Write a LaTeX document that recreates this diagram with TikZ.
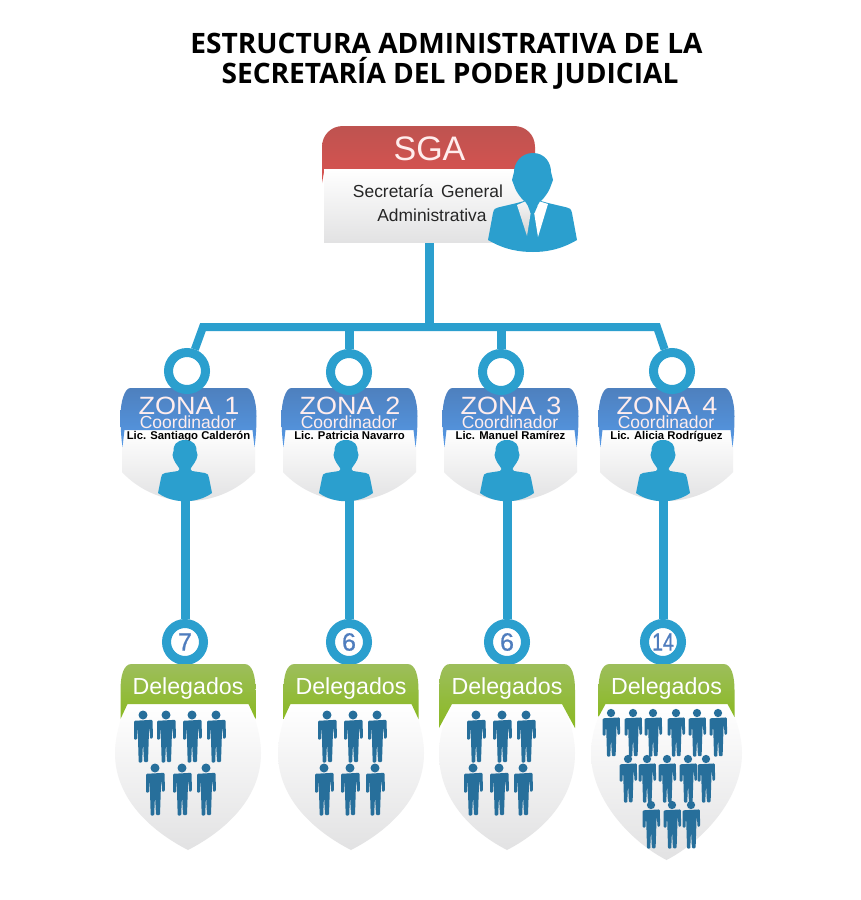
\documentclass[tikz,border=0pt]{standalone}
\usepackage{fontspec}
\setmainfont{Liberation Sans}
\newfontfamily\titlefont{Open Sans}
\newfontfamily\numfont[FakeBold=0.8]{Liberation Sans}
\usetikzlibrary{calc}
\definecolor{cblue}{HTML}{2B9FCE}
\definecolor{pblue}{HTML}{276F9B}
\definecolor{numblue}{HTML}{4F7DBE}
\definecolor{redT}{HTML}{BE5350}
\definecolor{redB}{HTML}{D95350}
\definecolor{zoneT}{HTML}{4E80BE}
\definecolor{zoneB}{HTML}{5599E6}
\definecolor{greenT}{HTML}{9DBE5C}
\definecolor{greenB}{HTML}{8AB922}
\definecolor{palegrey}{HTML}{E2E2E3}
\tikzset{
  conn/.style={draw=cblue,line width=9pt},
  busline/.style={draw=cblue,line width=8pt,line join=miter},
  ringnode/.style={circle,draw=cblue,line width=9pt,fill=white,minimum size=37pt,inner sep=0pt,font=\numfont\fontsize{25}{25}\selectfont\color{numblue}},
  titletext/.style={font=\titlefont\bfseries\fontsize{28.1}{30}\selectfont,align=center,text=black},
  zonetext/.style={anchor=base,inner sep=0pt,text=white!93!red,font=\fontsize{25}{25}\selectfont},
  coordtext/.style={anchor=base,inner sep=0pt,text=white!93!red,font=\fontsize{17.5}{17.5}\selectfont},
  nametext/.style={anchor=base,inner sep=0pt,text=black,font=\bfseries\fontsize{11.3}{11.3}\selectfont},
  delegtext/.style={anchor=base,inner sep=0pt,text=white,font=\fontsize{23.2}{23.2}\selectfont},
  sgatext/.style={anchor=base,inner sep=0pt,text=black!85,font=\fontsize{17.4}{17.4}\selectfont},
}
% bust figure: head centre (#1,#2)
\newcommand{\bust}[2]{%
 \begin{scope}[shift={(#1,#2)}]
  \fill[cblue] (0,-15) .. controls (9,-15) and (12,-9) .. (11.5,-4) -- (12.5,0) -- (11.5,4)
    .. controls (9.5,9) and (6,12) .. (5.5,14) -- (7,16) -- (20,18) .. controls (23,18.5) and (23.5,20) .. (24,23)
    -- (27,38) .. controls (12,49) and (-12,49) .. (-27,38) -- (-24,23) .. controls (-23.5,20) and (-23,18.5) .. (-20,18)
    -- (-7,16) -- (-5.5,14) .. controls (-6,12) and (-9.5,9) .. (-11.5,4) -- (-12.5,0) -- (-11.5,-4)
    .. controls (-12,-9) and (-9,-15) .. (0,-15) -- cycle;
 \end{scope}}
% small standing person: head centre (#1,#2), scale #3
\newcommand{\walker}[3]{%
 \begin{scope}[shift={(#1,#2)},scale=#3]
  \fill[pblue] (0,0) circle (4.5);
  \fill[pblue,rounded corners=1pt] (-9,5.8) -- (9.5,4.8) -- (10,23) -- (7.2,24) -- (6.2,10) -- (5,47) -- (1,47) -- (0,27) -- (-0.8,47.5) -- (-4.3,47.5) -- (-5.4,10) -- (-6,24.5) -- (-9,24.5) -- cycle;
 \end{scope}}
% zone shield: centre #1, index #2, zona text #3, name #4
\newcommand{\zoneshield}[4]{%
 \shade[top color=white,bottom color=palegrey]
   (#1-66.5,430) -- (#1+66.5,430) -- (#1+66.5,472) .. controls (#1+50,490) and (#1+25,501) .. (#1,501)
   .. controls (#1-25,501) and (#1-50,490) .. (#1-66.5,472) -- cycle;
 \shade[top color=zoneT,bottom color=zoneB]
   (#1-58,388) -- (#1+58,388) .. controls (#1+64,388) and (#1+68,402) .. (#1+68,416)
   .. controls (#1+68,430) and (#1+67,440) .. (#1+66,447) -- (#1+64,430) -- (#1-64,430) -- (#1-66,447)
   .. controls (#1-67,440) and (#1-68,430) .. (#1-68,416) .. controls (#1-68,402) and (#1-64,388) .. (#1-58,388) -- cycle;
 \node[zonetext] (zt#2) at (#1+0.5,414.3) {\scalebox{1.08}[1]{ZONA\hspace{10pt}#3}};
 \node[coordtext] (zc#2) at (#1-0.5,428.3) {Coordinador};
 \node[nametext] (zn#2) at (#1,439.5) {#4};
}
% delegate shield: centre #1, half-width #2, bottom y #3, green half width #4, index #5, wing y #6, wing inset #7
\newcommand{\delegshield}[7]{%
 \shade[top color=white,bottom color=palegrey]
   (#1-#4+#7,704) -- (#1+#4-#7,704) .. controls (#1+#2-5,718) and (#1+#2,738) .. (#1+#2,753)
   .. controls (#1+#2,800) and (#1+35,#3-18) .. (#1,#3)
   .. controls (#1-35,#3-18) and (#1-#2,800) .. (#1-#2,753)
   .. controls (#1-#2,738) and (#1-#2+5,718) .. (#1-#4+#7,704) -- cycle;
 \shade[top color=greenT,bottom color=greenB]
   (#1-#4+11,664) -- (#1+#4-11,664) .. controls (#1+#4-3,664) and (#1+#4,676) .. (#1+#4,690)
   -- (#1+#4,#6) -- (#1+#4-#7,704) -- (#1-#4+#7,704) -- (#1-#4,#6) -- (#1-#4,690)
   .. controls (#1-#4,676) and (#1-#4+3,664) .. (#1-#4+11,664) -- cycle;
 \node[delegtext] (dt#5) at (#1,694) {Delegados};
}
\begin{document}
\begin{tikzpicture}[x=1pt,y=-1pt]
\useasboundingbox (0,0) rectangle (860,900);
\fill[white] (0,0) rectangle (860,900);
% title
\node[titletext] (title) at (446.5,61) {ESTRUCTURA ADMINISTRATIVA DE LA\\\hspace*{7pt}SECRETARÍA DEL PODER JUDICIAL};
% named points
\coordinate (busL) at (203,327);
\coordinate (busR) at (657,327);
\coordinate (busM) at (429,327);
\coordinate (sgaS) at (429,240);
% SGA stem
\draw[conn] (sgaS) -- (busM);
% SGA
\shade[top color=redT,bottom color=redB]
  (322,183) -- (322,147) .. controls (322,135) and (331,126) .. (343,126) -- (514,126) .. controls (526,126) and (535,135) .. (535,147) -- (535,172) -- (324,172) -- cycle;
\shade[top color=white,bottom color=palegrey] (324,169) rectangle (525,242);
\node[anchor=base,inner sep=0pt,text=white!93!red,font=\fontsize{34}{34}\selectfont] (sga) at (429.5,160.7) {SGA};
\node[sgatext] (sga1) at (428,197) {Secretaría\hspace{3pt} General};
\node[sgatext] (sga2) at (432,221) {Administrativa};
% big man
\fill[cblue] (533,153) .. controls (545,153) and (551,163) .. (551,172) -- (553,180) -- (550,188) .. controls (548,193) and (544,198) .. (541,201) -- (548,203) -- (567,207.5) .. controls (570,208) and (571,209) .. (572,213) -- (577,240)
  .. controls (560,250) and (545,252) .. (533,252) .. controls (520,252) and (505,250) .. (488,240) -- (493,213) .. controls (494,209) and (495,208) .. (498,207.5) -- (517,203) -- (524,201) .. controls (521,198) and (517,193) .. (515,188) -- (512,180) -- (514,172) .. controls (514,163) and (521,153) .. (533,153) -- cycle;
\shade[top color=white!96!black,bottom color=white!82!black] (517,205) -- (525,201.5) -- (531,211) -- (527,236) -- cycle;
\fill[white] (548,204) -- (540,201.5) -- (534,212) -- (538,237) -- cycle;
\fill[cblue] (528,206) -- (537.5,206) -- (534.5,213) -- (530.5,213) -- cycle;
% zones
\zoneshield{188.5}{1}{1}{Lic. Santiago Calderón}
\zoneshield{349.5}{2}{2}{Lic. Patricia Navarro}
\zoneshield{510.5}{3}{3}{Lic. Manuel Ramírez}
\zoneshield{666.5}{4}{4}{Lic. Alicia Rodríguez}
\bust{185}{455}
\bust{346}{455}
\bust{507}{455}
\bust{663}{455}
% rings under the bus
\node[ringnode] (r1) at (187,371) {};
\node[ringnode] (r2) at (349,372) {};
\node[ringnode] (r3) at (501,372) {};
\node[ringnode] (r4) at (672,371) {};
\draw[busline] (r1) -- (busL) -- (busR) -- (r4);
\draw[conn] (r2) -- (r2 |- busL);
\draw[conn] (r3) -- (r3 |- busL);
% number rings and stems
\node[ringnode] (n1) at (185,642) {7};
\node[ringnode] (n2) at (349,642) {6};
\node[ringnode] (n3) at (507,642) {6};
\node[ringnode] (n4) at (663,642) {\scalebox{0.78}[1]{14}};
\coordinate (b1) at (185,498);
\coordinate (b2) at (349,498);
\coordinate (b3) at (507,498);
\coordinate (b4) at (663,498);
\draw[conn] (b1) -- (n1);
\draw[conn] (b2) -- (n2);
\draw[conn] (b3) -- (n3);
\draw[conn] (b4) -- (n4);
% delegates
\delegshield{188}{73}{850}{67.5}{1}{719}{7}
\delegshield{351}{73}{850}{67.5}{2}{719}{7}
\delegshield{507}{68}{850}{68}{3}{728}{13}
\delegshield{666.5}{75.5}{860}{68}{4}{717}{7}
\foreach \x/\y in {143/715,166/715,192/715,216/715,155/768,182/768,206/768,
                   327/715,353/715,377/715,324/768,350/768,375/768,
                   476/715,502/715,526/715,473/768,499/768,523/768}
  {\walker{\x}{\y}{1}}
\foreach \x/\y in {611/713,633/713,653/713,676/713,697/713,718/713,
                   628/759,647/759,667/759,688/759,706/759,
                   651/805,672/805,691/805}
  {\walker{\x}{\y}{0.92}}
\end{tikzpicture}
\end{document}
